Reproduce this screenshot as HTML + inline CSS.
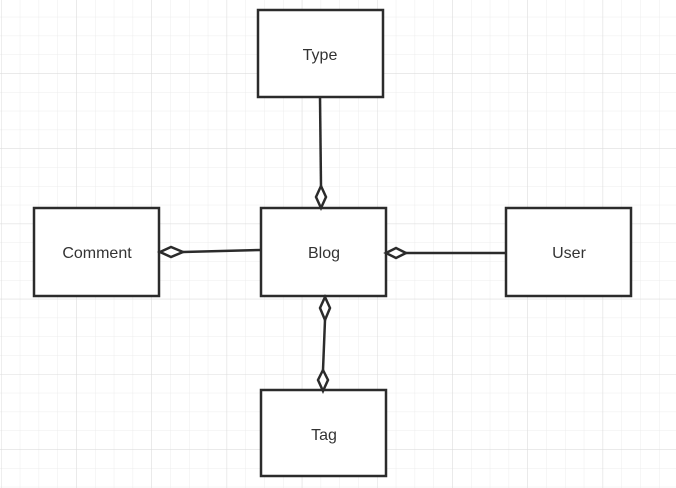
<!DOCTYPE html>
<html><head><style>html,body{margin:0;padding:0;background:#fff}</style></head><body>
<svg width="676" height="488" xmlns="http://www.w3.org/2000/svg" style="display:block">
<defs>
<pattern id="g" x="1" y="-2" width="18.8" height="18.8" patternUnits="userSpaceOnUse"><path d="M0 0V18.8M0 0H18.8" stroke="#ececec" stroke-width="1" fill="none"/></pattern>
<pattern id="G" x="1" y="-2" width="75.2" height="75.2" patternUnits="userSpaceOnUse"><path d="M0 0V75.2M0 0H75.2" stroke="#dcdcdc" stroke-width="1" fill="none"/></pattern>
</defs>
<rect width="676" height="488" fill="url(#g)"/>
<rect width="676" height="488" fill="url(#G)"/>
<g stroke="#2b2b2b" stroke-width="2.5" fill="#fff">
<rect x="258" y="10" width="125" height="87"/>
<rect x="261" y="208" width="125" height="88"/>
<rect x="34" y="208" width="125" height="88"/>
<rect x="506" y="208" width="125" height="88"/>
<rect x="261" y="390" width="125" height="86"/>
</g>
<g stroke="#2b2b2b" stroke-width="2.5" fill="#fff">
<line x1="320" y1="97" x2="321" y2="186"/>
<path d="M321 186 L326 197 L321 208 L316 197 Z"/>
<line x1="261" y1="250" x2="183" y2="252"/>
<path d="M160 252 L171 247 L183 252 L171 257 Z"/>
<line x1="506" y1="253" x2="406" y2="253"/>
<path d="M386 253 L396 248 L406 253 L396 258 Z"/>
<line x1="325" y1="320" x2="323" y2="370"/>
<path d="M325 297 L330 308 L325 320 L320 308 Z"/>
<path d="M323 370 L328 380 L323 391 L318 380 Z"/>
</g>
<g font-family="Liberation Sans, sans-serif" font-size="16" fill="#333" text-anchor="middle">
<text x="320" y="60">Type</text>
<text x="324" y="258">Blog</text>
<text x="97" y="258">Comment</text>
<text x="569" y="258">User</text>
<text x="324" y="440">Tag</text>
</g>
</svg>
</body></html>
